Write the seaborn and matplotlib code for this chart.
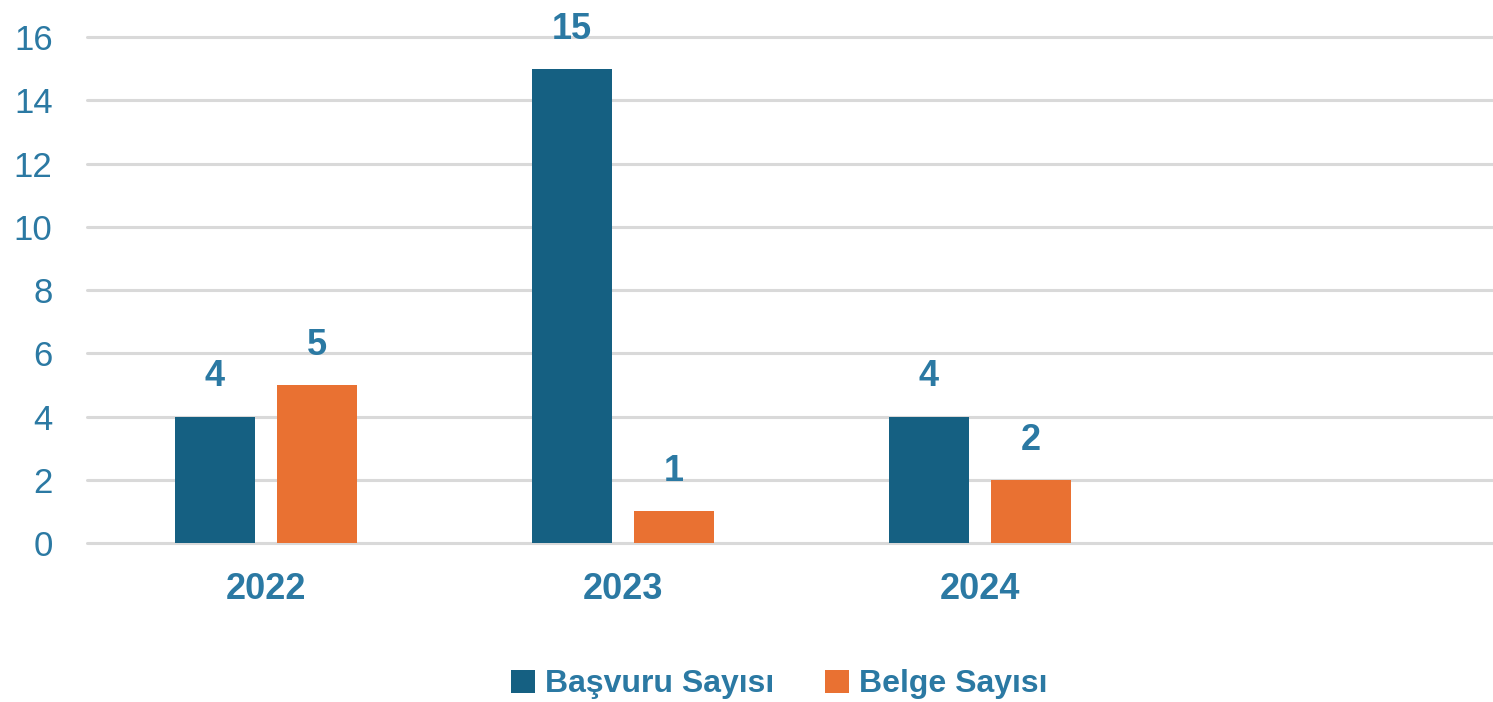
import pandas as pd
import seaborn as sns
import matplotlib.pyplot as plt

years = ['2022', '2023', '2024']
basvuru = [4, 15, 4]
belge = [5, 1, 2]
series = ['Başvuru Sayısı', 'Belge Sayısı']
colors = ['#156082', '#E97132']
text_color = '#2B79A3'

df = pd.DataFrame({
    'year': years * 2,
    'series': [series[0]] * len(years) + [series[1]] * len(years),
    'value': basvuru + belge,
})

sns.set_style('white')
plt.rcParams['font.family'] = ['Liberation Sans', 'DejaVu Sans']

fig = plt.figure(figsize=(14.93, 7.02), dpi=100)
ax = fig.add_axes([0.0585, 0.2265, 0.9565, 0.7205])

sns.barplot(data=df, x='year', y='value', hue='series', order=years,
            hue_order=series, palette=colors, width=0.57, gap=0.21,
            saturation=1, linewidth=0, ax=ax, legend=True)

for c in ax.containers:
    ax.bar_label(c, fmt='%d', padding=16, fontsize=26, fontweight='bold',
                 color=text_color)

ax.set_xlim(-0.5, 3.5)
ax.set_ylim(0, 16)
ax.set_yticks(range(0, 17, 2))
ax.set_xticks(range(len(years)))
ax.set_xticklabels(years)
ax.yaxis.grid(True, color='#D9D9D9', linewidth=2.2)
for gl in ax.get_ygridlines():
    gl.set_clip_on(False)
ax.set_axisbelow(True)
for s in ax.spines.values():
    s.set_visible(False)
ax.tick_params(axis='both', length=0, colors=text_color)
ax.tick_params(axis='y', labelsize=25, pad=25)
ax.tick_params(axis='x', labelsize=26, pad=21)
for t in ax.get_xticklabels():
    t.set_fontweight('bold')
ax.set_xlabel('')
ax.set_ylabel('')

handles, labels = ax.get_legend_handles_labels()
ax.get_legend().remove()
leg = fig.legend(handles, labels, loc='center', bbox_to_anchor=(0.522, 0.025),
                 ncol=2, frameon=False, handlelength=0.75,
                 handleheight=0.75, handletextpad=0.3, columnspacing=1.6,
                 prop={'weight': 'bold', 'size': 23})
for t in leg.get_texts():
    t.set_color(text_color)

fig.savefig('out.png', dpi=100)
